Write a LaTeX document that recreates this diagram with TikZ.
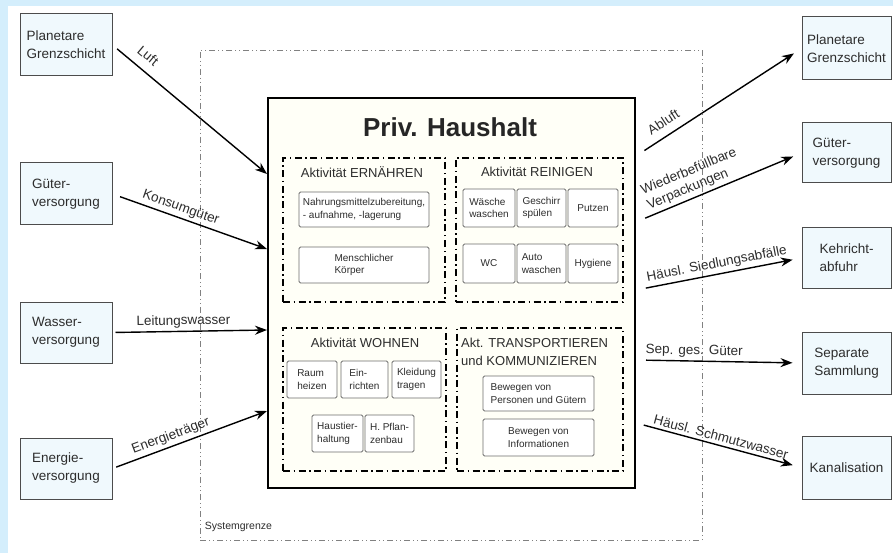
\documentclass[tikz,border=0pt]{standalone}
\usepackage{fontspec}
\setmainfont{Liberation Sans}
\usetikzlibrary{arrows.meta}

\definecolor{bgblue}{RGB}{212,238,252}
\definecolor{boxblue}{RGB}{240,249,253}
\definecolor{ink}{RGB}{45,45,45}

\tikzset{
  extbox/.style={draw=ink!85, line width=1pt, fill=boxblue, align=left, inner sep=2pt,
    font=\fontsize{13.5}{18}\selectfont, text=ink},
  actbox/.style={draw=black, line width=1.6pt, inner sep=0pt,
    dash pattern=on 7pt off 3.5pt on 1.5pt off 3.5pt},
  subbox/.style={draw=ink!70, line width=0.9pt, rounded corners=1.5pt, fill=white,
    align=left, inner sep=1pt, font=\fontsize{10}{12.5}\selectfont, text=ink},
  acttitle/.style={font=\fontsize{13}{18}\selectfont, text=ink, inner sep=0pt, align=left},
  flow/.style={->, line width=1.4pt, black},
  flowlabel/.style={font=\fontsize{13.5}{16}\selectfont, text=ink, sloped, above, inner sep=3pt},
}

\begin{document}
\begin{tikzpicture}[x=1pt, y=-1pt, >={Stealth[length=12pt,width=9pt]}]
        % Background
        \fill[bgblue] (0,0) rectangle (893,553);
        \fill[white] (8,6) rectangle (893,553);
        \useasboundingbox (0,0) rectangle (893,553);

        % System boundary
        \node[draw=ink!60, line width=0.7pt, dash pattern=on 6pt off 3pt on 1pt off 3pt on 1pt off 3pt,
              minimum width=502pt, minimum height=490pt, inner sep=0pt] (grenze) at (451,295) {};
        \node[anchor=west, inner sep=0pt, font=\fontsize{10.5}{12}\selectfont, text=ink]
              (grenzlabel) at ([shift={(5pt,13pt)}]grenze.south west) {Systemgrenze};

        % Sources (left)
        \node[extbox, minimum width=92pt, minimum height=62pt] (planL) at (66,45) {Planetare\\Grenzschicht};
        \node[extbox, minimum width=92pt, minimum height=62pt] (gueterL) at (66,194) {Güter-\\versorgung};
        \node[extbox, minimum width=92pt, minimum height=61pt] (wasserL) at (66,332.5) {Wasser-\\versorgung};
        \node[extbox, minimum width=92pt, minimum height=61pt] (energieL) at (66,468.5) {Energie-\\versorgung};

        % Sinks (right)
        \node[extbox, minimum width=89pt, minimum height=63pt] (planR) at (846.5,48.5) {Planetare\\Grenzschicht};
        \node[extbox, minimum width=89pt, minimum height=60pt] (gueterR) at (846.5,153) {Güter-\\versorgung};
        \node[extbox, minimum width=89pt, minimum height=60pt] (kehrR) at (846.5,258) {Kehricht-\\abfuhr};
        \node[extbox, minimum width=89pt, minimum height=62pt] (sepR) at (846.5,363) {Separate\\Sammlung};
        \node[extbox, minimum width=89pt, minimum height=63pt] (kanR) at (846.5,467.5) {Kanalisation};

        % Household
        \node[draw=black, line width=2pt, fill=white!97!yellow, minimum width=367pt, minimum height=390pt]
              (haus) at (451.5,293) {};
        \node[font=\bfseries\fontsize{26}{30}\selectfont, text=black!85] (titel) at (450,127) {Priv. Haushalt};

        % Activities
        \node[actbox, minimum width=162pt, minimum height=144pt] (ern) at (364,230) {};
        \node[actbox, minimum width=167pt, minimum height=144pt] (rein) at (539.5,230) {};
        \node[actbox, minimum width=163pt, minimum height=143pt] (wohn) at (364.5,399.5) {};
        \node[actbox, minimum width=166pt, minimum height=143pt] (trans) at (540,399.5) {};

        \node[acttitle] (ernT) at (362,172) {Aktivität ERNÄHREN};
        \node[acttitle] (reinT) at (537,172) {Aktivität REINIGEN};
        \node[acttitle] (wohnT) at (365,343) {Aktivität WOHNEN};
        \node[acttitle, anchor=west] (transT) at (461,352) {Akt. TRANSPORTIEREN\\und KOMMUNIZIEREN};

        % Ernaehren
        \node[subbox, minimum width=130pt, minimum height=35pt] (nahrung) at (364,209.5)
              {Nahrungsmittelzubereitung,\\- aufnahme, -lagerung};
        \node[subbox, minimum width=130pt, minimum height=36pt] (koerper) at (364,265) {Menschlicher\\Körper};

        % Reinigen
        \node[subbox, minimum width=52pt, minimum height=38pt] (waesche) at (489,208) {Wäsche\\waschen};
        \node[subbox, minimum width=49pt, minimum height=38pt] (geschirr) at (541.5,208) {Geschirr\\spülen};
        \node[subbox, minimum width=50pt, minimum height=38pt] (putzen) at (593,208) {Putzen};
        \node[subbox, minimum width=52pt, minimum height=39pt] (wc) at (489,263.5) {WC};
        \node[subbox, minimum width=49pt, minimum height=39pt] (auto) at (541.5,263.5) {Auto\\waschen};
        \node[subbox, minimum width=50pt, minimum height=39pt] (hygiene) at (593,263.5) {Hygiene};

        % Wohnen
        \node[subbox, minimum width=50pt, minimum height=37pt] (raum) at (312,379.5) {Raum\\heizen};
        \node[subbox, minimum width=47pt, minimum height=37pt] (einr) at (364.5,379.5) {Ein-\\richten};
        \node[subbox, minimum width=49pt, minimum height=37pt] (kleidung) at (416.5,379.5) {Kleidung\\tragen};
        \node[subbox, minimum width=51pt, minimum height=37pt] (haustier) at (337.5,433.5) {Haustier-\\haltung};
        \node[subbox, minimum width=49pt, minimum height=37pt] (pflanzen) at (389.5,433.5) {H. Pflan-\\zenbau};

        % Transportieren
        \node[subbox, minimum width=111pt, minimum height=35pt] (personen) at (538.5,393.5)
              {Bewegen von\\Personen und Gütern};
        \node[subbox, minimum width=111pt, minimum height=37pt, align=center] (info) at (538.5,437.5)
              {Bewegen von\\Informationen};

        % Inputs
        \draw[flow, shorten <=6pt] (planL.east) -- ([yshift=-77pt]haus.north west)
              node[flowlabel, pos=0.17, above=6pt] {Luft};
        \draw[flow, shorten <=8pt] (gueterL.east) -- ([yshift=-152pt]haus.north west)
              node[flowlabel, pos=0.42] {Konsumgüter};
        \draw[flow, shorten <=3pt] (wasserL.east) -- ([yshift=-233pt]haus.north west)
              node[flowlabel, pos=0.46] {Leitungswasser};
        \draw[flow, shorten <=4pt] (energieL.east) -- ([yshift=-314pt]haus.north west)
              node[flowlabel, pos=0.4] {Energieträger};

        % Outputs
        \draw[flow, shorten <=10pt, shorten >=9pt] ([yshift=-59pt]haus.north east) -- (planR.west)
              node[flowlabel, pos=0.21, above=5pt] {Abluft};
        \draw[flow, shorten <=10pt, shorten >=9pt] ([yshift=-125pt]haus.north east) -- (gueterR.west)
              node[flowlabel, pos=0.38, align=left] {Wiederbefüllbare\\Verpackungen};
        \draw[flow, shorten <=10pt, shorten >=9pt] ([yshift=-193pt]haus.north east) -- (kehrR.west)
              node[flowlabel, pos=0.5] {Häusl. Siedlungsabfälle};
        \draw[flow, shorten <=10pt, shorten >=9pt] ([yshift=-263pt]haus.north east) -- (sepR.west)
              node[flowlabel, pos=0.35] {Sep. ges. Güter};
        \draw[flow, shorten <=8pt, shorten >=9pt] ([yshift=-326pt]haus.north east) -- (kanR.west)
              node[flowlabel, pos=0.5] {Häusl. Schmutzwasser};
\end{tikzpicture}
\end{document}
